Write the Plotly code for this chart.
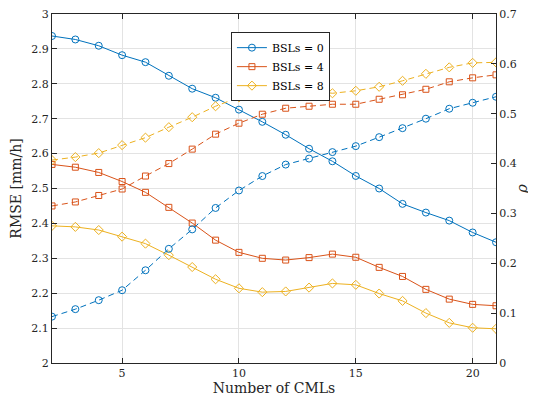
import plotly.graph_objects as go

cmls = list(range(2, 22))

rmse_bsl0 = [2.937, 2.927, 2.909, 2.882, 2.862, 2.823, 2.786, 2.760, 2.726, 2.691,
             2.654, 2.614, 2.578, 2.536, 2.500, 2.456, 2.431, 2.408, 2.374, 2.346]
rmse_bsl4 = [2.569, 2.561, 2.546, 2.520, 2.489, 2.446, 2.401, 2.352, 2.317, 2.300,
             2.295, 2.302, 2.312, 2.303, 2.274, 2.248, 2.211, 2.183, 2.168, 2.164]
rmse_bsl8 = [2.393, 2.390, 2.381, 2.362, 2.342, 2.309, 2.275, 2.240, 2.214, 2.203,
             2.205, 2.216, 2.228, 2.224, 2.199, 2.178, 2.143, 2.115, 2.101, 2.098]

rho_bsl0 = [0.093, 0.108, 0.126, 0.146, 0.186, 0.229, 0.268, 0.311, 0.346, 0.375,
            0.398, 0.410, 0.423, 0.435, 0.453, 0.471, 0.490, 0.510, 0.522, 0.534]
rho_bsl4 = [0.315, 0.323, 0.336, 0.349, 0.375, 0.400, 0.429, 0.459, 0.481, 0.499,
            0.511, 0.515, 0.519, 0.519, 0.529, 0.538, 0.549, 0.564, 0.572, 0.578]
rho_bsl8 = [0.407, 0.413, 0.421, 0.437, 0.452, 0.473, 0.493, 0.515, 0.533, 0.543,
            0.547, 0.547, 0.541, 0.546, 0.554, 0.566, 0.580, 0.593, 0.602, 0.603]

labels = ["BSLs = 0", "BSLs = 4", "BSLs = 8"]
colors = ["#0072BD", "#D95319", "#EDB120"]
symbols = ["circle-open", "square-open", "diamond-open"]
sizes = [7, 6, 7]

x_ticks = [5, 10, 15, 20]
rmse_ticks = [2.0, 2.1, 2.2, 2.3, 2.4, 2.5, 2.6, 2.7, 2.8, 2.9, 3.0]
rmse_ticktext = ["2", "2.1", "2.2", "2.3", "2.4", "2.5", "2.6", "2.7", "2.8", "2.9", "3"]
rho_ticks = [0.0, 0.1, 0.2, 0.3, 0.4, 0.5, 0.6, 0.7]
rho_ticktext = ["0", "0.1", "0.2", "0.3", "0.4", "0.5", "0.6", "0.7"]

FONT = "DejaVu Serif"
AX = "#262626"
GRID = "#e3e3e3"

fig = go.Figure()

for rm, lab, c, s, sz in zip([rmse_bsl0, rmse_bsl4, rmse_bsl8], labels, colors, symbols, sizes):
    fig.add_trace(go.Scatter(x=cmls, y=rm, mode="lines+markers", name=lab,
                             line=dict(color=c, width=1),
                             marker=dict(symbol=s, size=sz, color=c, line=dict(width=1, color=c)),
                             yaxis="y"))

for rh, lab, c, s, sz in zip([rho_bsl0, rho_bsl4, rho_bsl8], labels, colors, symbols, sizes):
    fig.add_trace(go.Scatter(x=cmls, y=rh, mode="lines+markers", name=lab, showlegend=False,
                             line=dict(color=c, width=1, dash="6px,4px"),
                             marker=dict(symbol=s, size=sz, color=c, line=dict(width=1, color=c)),
                             yaxis="y2"))

# The page body has an 8px margin, so the figure is 8px smaller than the window
fig.update_layout(
    width=528, height=395,
    margin=dict(l=44, r=40, t=6, b=40, autoexpand=False),
    plot_bgcolor="white", paper_bgcolor="white",
    font=dict(family=FONT, size=11, color=AX),
    xaxis=dict(range=[2, 21], tickvals=x_ticks, showgrid=True, gridcolor=GRID,
               gridwidth=1, zeroline=False, showline=True, linecolor=AX, linewidth=1,
               mirror="ticks", ticks="inside", ticklen=5, tickcolor=AX, automargin=False,
               ticklabeloverflow="allow",
               tickfont=dict(size=11, family=FONT, color=AX),
               title=dict(text="Number of CMLs", font=dict(size=14, family=FONT, color=AX), standoff=3)),
    yaxis=dict(range=[2, 3], tickvals=rmse_ticks, ticktext=rmse_ticktext, showgrid=True, gridcolor=GRID,
               zeroline=False, showline=True, linecolor=AX, linewidth=1, automargin=False,
               ticks="inside", ticklen=5, tickcolor=AX, ticklabeloverflow="allow",
               tickfont=dict(size=11, family=FONT, color=AX),
               title=dict(text="RMSE [mm/h]", font=dict(size=14, family=FONT, color=AX), standoff=6)),
    yaxis2=dict(range=[0, 0.7], tickvals=rho_ticks, ticktext=rho_ticktext, overlaying="y", side="right",
                showgrid=False, zeroline=False, showline=True, linecolor=AX, linewidth=1, automargin=False,
                ticks="inside", ticklen=5, tickcolor=AX, ticklabeloverflow="allow",
                tickfont=dict(size=11, family=FONT, color=AX),
                title=dict(text="<i>ρ</i>", font=dict(size=15, family=FONT, color=AX), standoff=0)),
    legend=dict(x=0.403, y=0.948, xanchor="left", yanchor="top",
                bgcolor="white", bordercolor=AX, borderwidth=1,
                font=dict(size=11, family=FONT, color="black"),
                itemwidth=30, tracegroupgap=0),
    showlegend=True,
)

fig.write_html("out.html")
